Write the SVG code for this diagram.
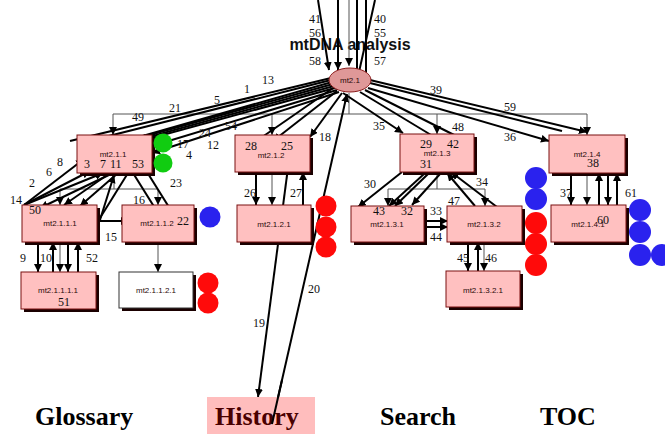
<svg xmlns="http://www.w3.org/2000/svg" width="665" height="434" viewBox="0 0 665 434">
  <defs>
    <marker id="ah" viewBox="0 0 8 8" refX="8" refY="4" markerWidth="8" markerHeight="8" markerUnits="userSpaceOnUse" orient="auto">
      <path d="M0,0 L8,4 L0,8 z" fill="#000"/>
    </marker>
    <marker id="ahr" viewBox="0 0 8 8" refX="8" refY="4" markerWidth="8" markerHeight="8" markerUnits="userSpaceOnUse" orient="auto">
      <path d="M0,0 L8,4 L0,8 z" fill="#5a0000"/>
    </marker>
    <style>
      .box { fill: #ffc0c0; stroke: #7a1010; stroke-width: 1; }
      .wbox { fill: #ffffff; stroke: #333; stroke-width: 1; }
      .shadow { fill: #1a0000; }
      .nl { font-family: "Liberation Sans", Arial, sans-serif; font-size: 8px; fill: #2a0a0a; text-anchor: middle; }
      .num { font-family: "Liberation Serif", "Times New Roman", serif; font-size: 12px; fill: #111; }
      .ln { stroke: #000; stroke-width: 2; fill: none; }
      .lnr { stroke: #000; stroke-width: 2; fill: none; marker-end: url(#ah); }
      .bus { stroke: #555; stroke-width: 1; fill: none; }
      .busa { stroke: #555; stroke-width: 1; fill: none; marker-end: url(#ah); }
      .nav { font-family: "Liberation Serif", "Times New Roman", serif; font-size: 26px; font-weight: bold; fill: #000; }
      .green { fill: #11cc11; }
      .blue { fill: #2a22ee; }
      .red { fill: #ff0a0a; }
    </style>
  </defs>

  <!-- title -->
  <text x="350" y="50" font-family="Liberation Sans, Arial, sans-serif" font-size="16" font-weight="bold" text-anchor="middle" fill="#111">mtDNA analysis</text>

  <!-- connectors -->
  <g id="connectors">
    <!-- incoming from above the root -->
    <line class="lnr" x1="318" y1="0" x2="329" y2="70"/>
    <line class="lnr" x1="338" y1="0" x2="338" y2="70"/>
    <line class="busa" x1="349" y1="0" x2="349" y2="66"/>
    <line class="ln" x1="357" y1="0" x2="357" y2="72"/>
    <line class="ln" x1="366" y1="0" x2="366" y2="74"/>
    <line class="ln" x1="375" y1="0" x2="359" y2="72"/>

    <!-- tree bus below the root -->
    <line class="bus" x1="349" y1="93" x2="349" y2="114"/>
    <line class="bus" x1="113" y1="114" x2="587" y2="114"/>
    <line class="busa" x1="113" y1="114" x2="113" y2="135"/>
    <line class="busa" x1="272" y1="114" x2="272" y2="135"/>
    <line class="busa" x1="437" y1="114" x2="437" y2="134"/>
    <line class="busa" x1="587" y1="114" x2="587" y2="135"/>

    <!-- root to mt2.1.1 fan -->
    <line class="ln" x1="331" y1="78" x2="70" y2="141"/>
    <line class="ln" x1="331" y1="80" x2="85" y2="142"/>
    <line class="lnr" x1="332" y1="82" x2="118" y2="143"/>
    <line class="lnr" x1="333" y1="84" x2="128" y2="141"/>
    <line class="lnr" x1="334" y1="86" x2="138" y2="140"/>
    <line class="lnr" x1="335" y1="88" x2="148" y2="139"/>
    <line class="lnr" x1="337" y1="90" x2="152" y2="146"/>
    <line class="lnr" x1="339" y1="92" x2="152" y2="153"/>

    <!-- root to mt2.1.2 -->
    <line class="ln" x1="333" y1="88" x2="255" y2="142"/>
    <line class="lnr" x1="337" y1="91" x2="273" y2="141"/>
    <line class="lnr" x1="342" y1="93" x2="310" y2="137"/>

    <!-- root to mt2.1.3 -->
    <line class="lnr" x1="343" y1="93" x2="403" y2="133"/>
    <line class="lnr" x1="360" y1="92" x2="441" y2="141"/>
    <line class="lnr" x1="365" y1="90" x2="468" y2="142"/>

    <!-- root to mt2.1.4 -->
    <line class="lnr" x1="370" y1="80" x2="587" y2="132"/>
    <line class="ln" x1="370" y1="83" x2="562" y2="131"/>
    <line class="lnr" x1="368" y1="88" x2="549" y2="141"/>

    <!-- History links -->
    <line class="lnr" x1="289" y1="160" x2="258" y2="397"/>
    <line class="lnr" x1="272" y1="424" x2="347" y2="94"/>

    <!-- mt2.1.1 to its children -->
    <line class="bus" x1="114" y1="173" x2="114" y2="189"/>
    <line class="bus" x1="60" y1="189" x2="158" y2="189"/>
    <line class="busa" x1="60" y1="189" x2="60" y2="205"/>
    <line class="busa" x1="158" y1="189" x2="158" y2="205"/>
    <line class="lnr" x1="24" y1="205" x2="84" y2="159"/>
    <line class="lnr" x1="24" y1="205" x2="90" y2="171"/>
    <line class="lnr" x1="24" y1="205" x2="103" y2="173"/>
    <line class="lnr" x1="113" y1="173" x2="40" y2="208"/>
    <line class="lnr" x1="110" y1="173" x2="64" y2="205"/>
    <line class="lnr" x1="118" y1="173" x2="80" y2="206"/>
    <line class="lnr" x1="100" y1="220" x2="114" y2="175"/>
    <line class="ln" x1="128" y1="173" x2="100" y2="218"/>
    <line class="lnr" x1="133" y1="173" x2="163" y2="221"/>
    <line class="lnr" x1="147" y1="172" x2="177" y2="220"/>
    <line class="lnr" x1="98" y1="221" x2="129" y2="221"/>

    <!-- mt2.1.1.1 to mt2.1.1.1.1 -->
    <line class="lnr" x1="38" y1="242" x2="38" y2="272"/>
    <line class="lnr" x1="53" y1="272" x2="53" y2="242"/>
    <line class="busa" x1="60" y1="242" x2="60" y2="272"/>
    <line class="lnr" x1="68" y1="242" x2="68" y2="272"/>
    <line class="lnr" x1="78" y1="272" x2="78" y2="242"/>

    <!-- mt2.1.1.2 to mt2.1.1.2.1 -->
    <line class="busa" x1="158" y1="242" x2="158" y2="272"/>

    <!-- mt2.1.2 to mt2.1.2.1 -->
    <line class="lnr" x1="256" y1="172" x2="256" y2="205"/>
    <line class="busa" x1="272" y1="172" x2="272" y2="205"/>
    <line class="lnr" x1="303" y1="205" x2="303" y2="172"/>

    <!-- mt2.1.3 to its children -->
    <line class="bus" x1="437" y1="172" x2="437" y2="189"/>
    <line class="bus" x1="388" y1="189" x2="485" y2="189"/>
    <line class="busa" x1="388" y1="189" x2="388" y2="206"/>
    <line class="busa" x1="485" y1="189" x2="485" y2="206"/>
    <line class="lnr" x1="402" y1="172" x2="358" y2="207"/>
    <line class="lnr" x1="424" y1="174" x2="389" y2="206"/>
    <line class="lnr" x1="428" y1="174" x2="395" y2="206"/>
    <line class="lnr" x1="440" y1="174" x2="412" y2="205"/>
    <line class="lnr" x1="475" y1="206" x2="447" y2="173"/>
    <line class="lnr" x1="497" y1="207" x2="451" y2="172"/>
    <line class="lnr" x1="420" y1="221" x2="448" y2="221"/>
    <line class="lnr" x1="420" y1="227" x2="448" y2="227"/>

    <!-- mt2.1.3.2 to mt2.1.3.2.1 -->
    <line class="lnr" x1="468" y1="242" x2="468" y2="271"/>
    <line class="lnr" x1="478" y1="271" x2="478" y2="242"/>
    <line class="busa" x1="484" y1="242" x2="484" y2="271"/>

    <!-- mt2.1.4 to mt2.1.4.1 -->
    <line class="lnr" x1="571" y1="173" x2="571" y2="205"/>
    <line class="busa" x1="587" y1="173" x2="587" y2="205"/>
    <line class="lnr" x1="599" y1="205" x2="599" y2="173"/>
    <line class="lnr" x1="608" y1="173" x2="608" y2="205"/>
    <line class="lnr" x1="617" y1="205" x2="617" y2="173"/>
  </g>

  <!-- link numbers -->
  <g id="link-labels" class="num">
    <text x="309" y="23">41</text>
    <text x="309" y="37">56</text>
    <text x="309" y="65">58</text>
    <text x="374" y="23">40</text>
    <text x="374" y="37">55</text>
    <text x="374" y="65">57</text>
    <text x="262" y="84">13</text>
    <text x="244" y="93">1</text>
    <text x="214" y="104">5</text>
    <text x="169" y="112">21</text>
    <text x="132" y="121">49</text>
    <text x="225" y="130">54</text>
    <text x="199" y="137">24</text>
    <text x="177" y="148">17</text>
    <text x="207" y="149">12</text>
    <text x="186" y="159">4</text>
    <text x="319" y="141">18</text>
    <text x="430" y="94">39</text>
    <text x="504" y="111">59</text>
    <text x="504" y="141">36</text>
    <text x="373" y="130">35</text>
    <text x="452" y="131">48</text>
    <text x="29" y="187">2</text>
    <text x="46" y="176">6</text>
    <text x="57" y="166">8</text>
    <text x="10" y="204">14</text>
    <text x="133" y="204">16</text>
    <text x="170" y="187">23</text>
    <text x="105" y="241">15</text>
    <text x="20" y="262">9</text>
    <text x="40" y="262">10</text>
    <text x="86" y="262">52</text>
    <text x="244" y="197">26</text>
    <text x="290" y="197">27</text>
    <text x="364" y="188">30</text>
    <text x="476" y="186">34</text>
    <text x="448" y="205">47</text>
    <text x="430" y="215">33</text>
    <text x="430" y="241">44</text>
    <text x="457" y="262">45</text>
    <text x="485" y="262">46</text>
    <text x="560" y="197">37</text>
    <text x="625" y="197">61</text>
    <text x="253" y="327">19</text>
    <text x="308" y="293">20</text>
  </g>

  <!-- root -->
  <g id="root">
    <ellipse cx="350" cy="80" rx="21" ry="12" fill="#df9898" stroke="#8a1a1a" stroke-width="1"/>
    <text x="350" y="83" class="nl" fill="#5a0000">mt2.1</text>
  </g>

  <!-- nodes -->
  <g id="n-2-1-1">
    <rect class="shadow" x="80" y="138" width="75" height="38"/>
    <rect class="box" x="77" y="135" width="75" height="38"/>
    <text class="nl" x="113" y="157">mt2.1.1</text>
    <text class="num" x="84" y="168">3</text>
    <text class="num" x="100" y="168">7</text>
    <text class="num" x="110" y="168">11</text>
    <text class="num" x="132" y="168">53</text>
  </g>
  <g id="n-2-1-2">
    <rect class="shadow" x="238" y="138" width="75" height="37"/>
    <rect class="box" x="235" y="135" width="75" height="37"/>
    <text class="nl" x="271" y="158">mt2.1.2</text>
    <text class="num" x="245" y="150">28</text>
    <text class="num" x="281" y="150">25</text>
  </g>
  <g id="n-2-1-3">
    <rect class="shadow" x="403" y="137" width="74" height="38"/>
    <rect class="box" x="400" y="134" width="74" height="38"/>
    <text class="nl" x="437" y="156">mt2.1.3</text>
    <text class="num" x="420" y="148">29</text>
    <text class="num" x="447" y="148">42</text>
    <text class="num" x="420" y="168">31</text>
  </g>
  <g id="n-2-1-4">
    <rect class="shadow" x="552" y="138" width="76" height="38"/>
    <rect class="box" x="549" y="135" width="76" height="38"/>
    <text class="nl" x="587" y="157">mt2.1.4</text>
    <text class="num" x="587" y="167">38</text>
  </g>
  <g id="n-2-1-1-1">
    <rect class="shadow" x="25" y="208" width="75" height="37"/>
    <rect class="box" x="22" y="205" width="75" height="37"/>
    <text class="nl" x="60" y="226">mt2.1.1.1</text>
    <text class="num" x="29" y="214">50</text>
  </g>
  <g id="n-2-1-1-2">
    <rect class="shadow" x="125" y="208" width="72" height="37"/>
    <rect class="box" x="122" y="205" width="72" height="37"/>
    <text class="nl" x="157" y="226">mt2.1.1.2</text>
    <text class="num" x="177" y="225">22</text>
  </g>
  <g id="n-2-1-2-1">
    <rect class="shadow" x="240" y="208" width="74" height="37"/>
    <rect class="box" x="237" y="205" width="74" height="37"/>
    <text class="nl" x="274" y="227">mt2.1.2.1</text>
  </g>
  <g id="n-2-1-3-1">
    <rect class="shadow" x="354" y="209" width="73" height="36"/>
    <rect class="box" x="351" y="206" width="73" height="36"/>
    <text class="nl" x="387" y="227">mt2.1.3.1</text>
    <text class="num" x="373" y="215">43</text>
    <text class="num" x="401" y="215">32</text>
  </g>
  <g id="n-2-1-3-2">
    <rect class="shadow" x="450" y="209" width="75" height="36"/>
    <rect class="box" x="447" y="206" width="75" height="36"/>
    <text class="nl" x="484" y="227">mt2.1.3.2</text>
  </g>
  <g id="n-2-1-4-1">
    <rect class="shadow" x="554" y="208" width="75" height="37"/>
    <rect class="box" x="551" y="205" width="75" height="37"/>
    <text class="nl" x="588" y="227">mt2.1.4.1</text>
    <text class="num" x="597" y="224">60</text>
  </g>
  <g id="n-2-1-1-1-1">
    <rect class="shadow" x="24" y="275" width="75" height="37"/>
    <rect class="box" x="21" y="272" width="75" height="37"/>
    <text class="nl" x="58" y="293">mt2.1.1.1.1</text>
    <text class="num" x="58" y="306">51</text>
  </g>
  <g id="n-2-1-1-2-1">
    <rect class="shadow" x="122" y="275" width="74" height="36"/>
    <rect class="wbox" x="119" y="272" width="74" height="36"/>
    <text class="nl" x="156" y="293">mt2.1.1.2.1</text>
  </g>
  <g id="n-2-1-3-2-1">
    <rect class="shadow" x="449" y="274" width="74" height="36"/>
    <rect class="box" x="446" y="271" width="74" height="36"/>
    <text class="nl" x="483" y="293">mt2.1.3.2.1</text>
  </g>

  <!-- status dots -->
  <g id="dots">
    <circle class="green" cx="163" cy="143" r="9.5"/>
    <circle class="green" cx="163" cy="163" r="9.5"/>
    <circle class="blue" cx="210" cy="217" r="10.5"/>
    <circle class="red" cx="326" cy="206" r="10.5"/>
    <circle class="red" cx="326" cy="227" r="10.5"/>
    <circle class="red" cx="326" cy="247" r="10.5"/>
    <circle class="red" cx="208" cy="283" r="10.5"/>
    <circle class="red" cx="208" cy="303" r="10.5"/>
    <circle class="blue" cx="536" cy="178" r="11"/>
    <circle class="blue" cx="536" cy="199" r="11"/>
    <circle class="red" cx="536" cy="223" r="11"/>
    <circle class="red" cx="536" cy="244" r="11"/>
    <circle class="red" cx="536" cy="265" r="11"/>
    <circle class="blue" cx="640" cy="210" r="11"/>
    <circle class="blue" cx="640" cy="232" r="11"/>
    <circle class="blue" cx="640" cy="255" r="11"/>
    <circle class="blue" cx="662" cy="255" r="11"/>
  </g>

  <!-- navigation bar -->
  <g id="nav-glossary"><text class="nav" x="35" y="425">Glossary</text></g>
  <g id="nav-history">
    <rect x="207" y="397" width="108" height="37" fill="#ffbdbd"/>
    <text class="nav" x="215" y="425" fill="#4a0000" style="fill:#4a0000">History</text>
  </g>
  <g id="nav-search"><text class="nav" x="380" y="425">Search</text></g>
  <g id="nav-toc"><text class="nav" x="540" y="425">TOC</text></g>

  <!-- link 20 passes over the History label -->
  <line x1="272" y1="424" x2="282" y2="380" stroke="#000" stroke-width="2"/>
</svg>
